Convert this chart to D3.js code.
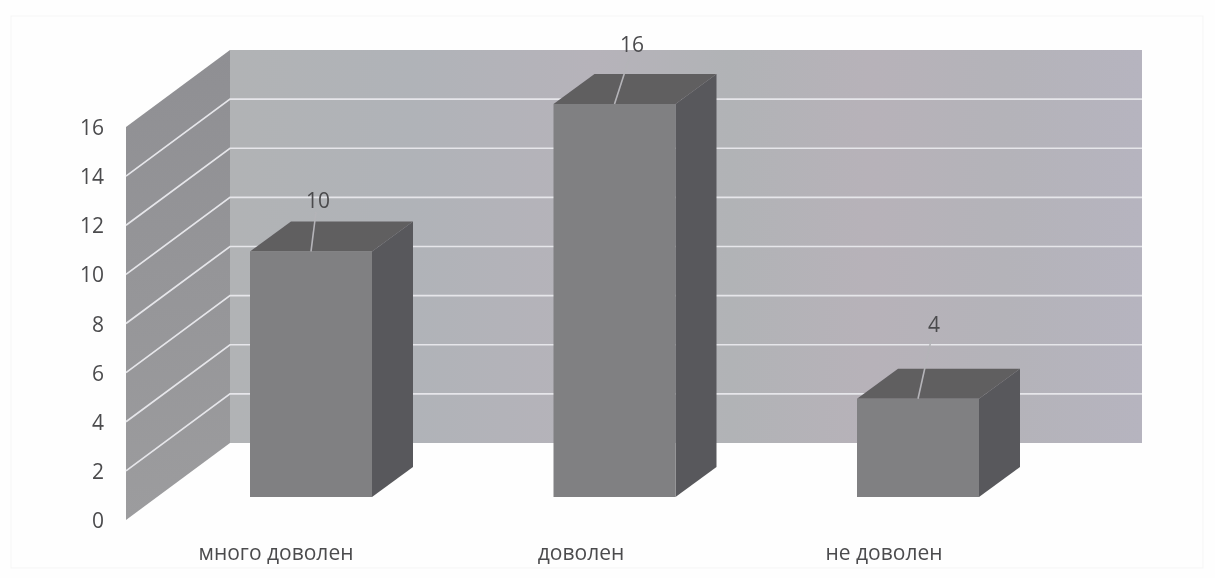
<!DOCTYPE html>
<html><head><meta charset="utf-8">
<script src="https://cdn.jsdelivr.net/npm/d3@7"></script>
<style>html,body{margin:0;padding:0;background:#fefefe}svg{display:block}text{font-family:"Open Sans","Noto Sans",sans-serif;fill:#4c4c4e;font-size:21px}</style>
</head><body><svg id="c" width="1215" height="578"></svg>
<script>
const categories=["много доволен","доволен","не доволен"];
const values=[10,16,4];
const yTicks=[0,2,4,6,8,10,12,14,16];
const svg=d3.select("#c");
const defs=svg.append("defs");
const soft=defs.append("filter").attr("id","soft");
soft.append("feGaussianBlur").attr("stdDeviation",0.45);
const root=svg.append("g").attr("filter","url(#soft)");
// scales: bar front plane, axis edge of the side wall, back wall
const yFront=d3.scaleLinear().domain([0,16]).range([497,104]);
const yAxisScale=d3.scaleLinear().domain([0,16]).range([520,127]);
const yBack=d3.scaleLinear().domain([0,16]).range([443,50]);
const xPos=d3.scalePoint().domain(categories).range([250,857]);
const barW=122,dx=41,dy=-30;
// layout of the hand-placed text
const labelX=[276,581,884];
const dataLabelX=[318,632,934];
const dataLabelBase=[208,52,332];
// outer frame
root.append("rect").attr("x",11).attr("y",16).attr("width",1192).attr("height",552).attr("fill","#fefefe").attr("stroke","#f5f5f5");
// back wall, with the scan's colour banding
const grad=defs.append("linearGradient").attr("id","w").attr("x1",0).attr("x2",1).attr("y1",0).attr("y2",0);
[[0,"#b1b3b5"],[.2,"#b0b3b8"],[.4,"#b6b3ba"],[.55,"#b1b3b6"],[.7,"#b7b2b9"],[.85,"#b4b3b9"],[1,"#b6b4bf"]].forEach(s=>grad.append("stop").attr("offset",s[0]).attr("stop-color",s[1]));
root.append("rect").attr("x",230).attr("y",yBack(16)).attr("width",912).attr("height",yBack(0)-yBack(16)).attr("fill","url(#w)");
// side wall
const sideGrad=defs.append("linearGradient").attr("id","s").attr("x1",0).attr("x2",0).attr("y1",0).attr("y2",1);
sideGrad.append("stop").attr("offset",0).attr("stop-color","#8f8f93");
sideGrad.append("stop").attr("offset",1).attr("stop-color","#9c9c9e");
root.append("path").attr("d",d3.line()([[126,yAxisScale(16)],[230,yBack(16)],[230,yBack(0)],[126,yAxisScale(0)]])).attr("fill","url(#s)");
// gridlines
yTicks.slice(1,-1).forEach(t=>{
  root.append("path").attr("d",d3.line()([[126,yAxisScale(t)],[230,yBack(t)],[1142,yBack(t)]])).attr("fill","none").attr("stroke","#e6e6ea").attr("stroke-width",1.7);
});
// y tick labels
root.selectAll(".yt").data(yTicks).join("text").attr("class","yt").attr("x",104).attr("y",d=>yAxisScale(d)+8).attr("text-anchor","end").text(d=>d);
// bars
categories.forEach((cat,i)=>{
  const x=xPos(cat),v=values[i],t=yFront(v),b=yFront(0);
  const g=root.append("g");
  g.append("path").attr("d",d3.line()([[x+barW,t],[x+barW+dx,t+dy],[x+barW+dx,b+dy],[x+barW,b]])).attr("fill","#59595c");
  g.append("path").attr("d",d3.line()([[x,t],[x+dx,t+dy],[x+barW+dx,t+dy],[x+barW,t]])).attr("fill","#605e61");
  g.append("rect").attr("x",x).attr("y",t).attr("width",barW).attr("height",b-t).attr("fill","#808082");
  g.append("line").attr("x1",x+barW/2).attr("y1",t).attr("x2",dataLabelX[i]-2).attr("y2",dataLabelBase[i]+4).attr("stroke","#b4b4b8").attr("stroke-width",1.6);
  g.append("text").attr("x",dataLabelX[i]).attr("y",dataLabelBase[i]).attr("text-anchor","middle").text(v);
});
// category labels
root.selectAll(".xl").data(categories).join("text").attr("class","xl").attr("x",(d,i)=>labelX[i]).attr("y",560).attr("text-anchor","middle").text(d=>d);
</script></body></html>
